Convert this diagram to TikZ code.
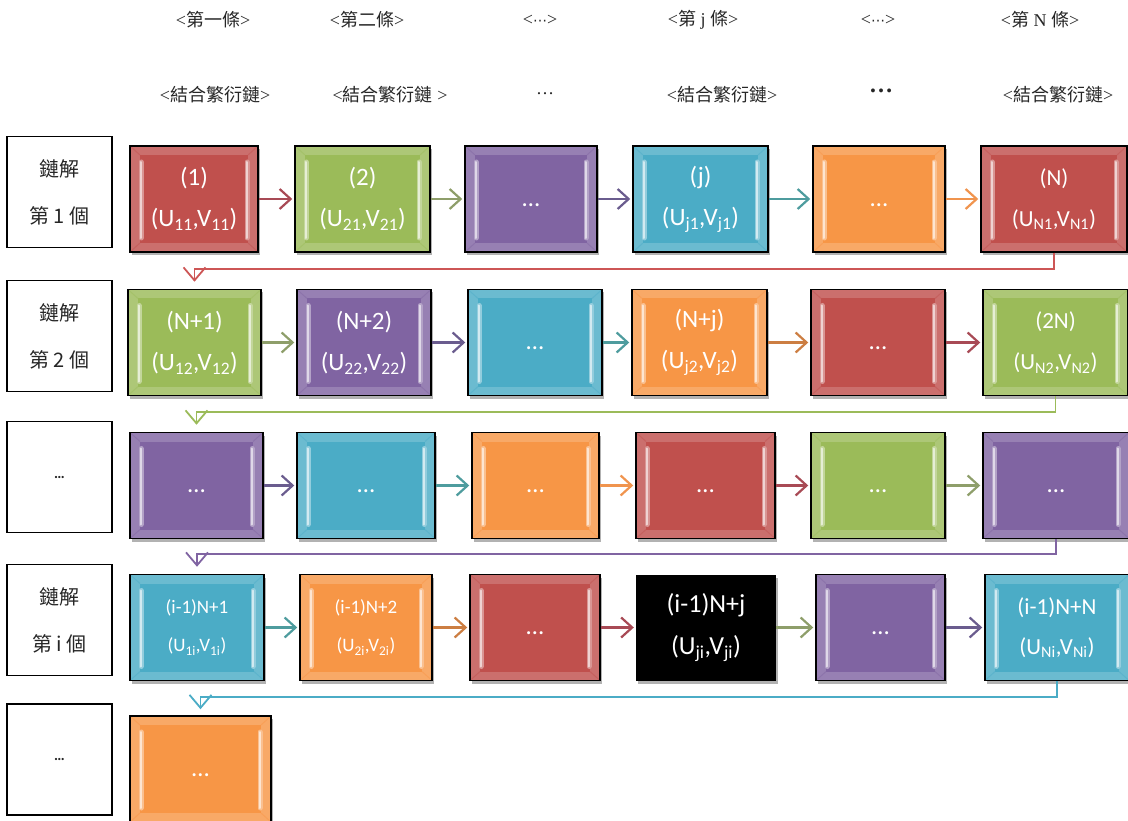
\documentclass[tikz,border=0pt]{standalone}
\usepackage{fontspec}
\setmainfont{Carlito}
\newfontfamily\cjk{Noto Sans CJK TC}
\newfontfamily\hdrfont{Liberation Serif}
\newfontfamily\djv{DejaVu Sans}
\usetikzlibrary{arrows.meta,shadows,calc}
\newcommand\zhtxt[1]{{\cjk #1}}
\newcommand\UV[2]{(U\textsubscript{#1},V\textsubscript{#2})}
\newcommand\dotsbox{\vphantom{(}…}
\definecolor{cRed}{HTML}{C0504D}
\definecolor{cGreen}{HTML}{9BBB59}
\definecolor{cPurple}{HTML}{8064A2}
\definecolor{cAqua}{HTML}{4BACC6}
\definecolor{cOrange}{HTML}{F79646}
\definecolor{aRed}{HTML}{A84A55}
\definecolor{aGreen}{HTML}{8E9E6A}
\definecolor{aPurple}{HTML}{6A5C8E}
\definecolor{aAqua}{HTML}{4E9C9E}
\definecolor{aOrange}{HTML}{F0944E}
\definecolor{rRed}{HTML}{CD5656}
\begin{document}
\begin{tikzpicture}[x=1pt,y=-1pt,
  hdr/.style={font=\hdrfont\fontsize{18}{20}\selectfont, text=black!85, inner sep=0pt},
  lbl/.style={draw=black, line width=1.6pt, fill=white, minimum width=105pt, minimum height=111pt,
    align=center, inner sep=0pt, font=\cjk\fontsize{20}{47}\selectfont, text=black!85},
  gem/.style={draw=black, line width=1.5pt, fill=#1, text=white, inner sep=0pt, align=center,
    minimum height=106pt, font=\fontsize{25}{41}\selectfont,
    drop shadow={shadow xshift=2pt, shadow yshift=-3pt, opacity=0.3, fill=black},
    path picture={
      \fill[#1!82!white] (path picture bounding box.north west) rectangle (path picture bounding box.south east);
      \fill[#1] ([shift={(10pt,-9pt)}]path picture bounding box.north west) rectangle ([shift={(-10pt,9pt)}]path picture bounding box.south east);
      \draw[#1!90!white, line width=1pt] (path picture bounding box.north west) -- ([shift={(10pt,-9pt)}]path picture bounding box.north west);
      \draw[#1!90!white, line width=1pt] (path picture bounding box.north east) -- ([shift={(-10pt,-9pt)}]path picture bounding box.north east);
      \draw[#1!90!white, line width=1pt] (path picture bounding box.south west) -- ([shift={(10pt,9pt)}]path picture bounding box.south west);
      \draw[#1!90!white, line width=1pt] (path picture bounding box.south east) -- ([shift={(-10pt,9pt)}]path picture bounding box.south east);
      \draw[white!40!#1, line width=5pt, line cap=round] ([shift={(11pt,-16pt)}]path picture bounding box.north west) -- ([shift={(11pt,14pt)}]path picture bounding box.south west);
      \draw[white!40!#1, line width=5pt, line cap=round] ([shift={(-11pt,-16pt)}]path picture bounding box.north east) -- ([shift={(-11pt,14pt)}]path picture bounding box.south east);
      \draw[white!75!#1, line width=2pt, line cap=round] ([shift={(11pt,-16pt)}]path picture bounding box.north west) -- ([shift={(11pt,14pt)}]path picture bounding box.south west);
      \draw[white!75!#1, line width=2pt, line cap=round] ([shift={(-11pt,-16pt)}]path picture bounding box.north east) -- ([shift={(-11pt,14pt)}]path picture bounding box.south east);
    }},
  blk/.style={fill=black, text=white, inner sep=0pt, align=center, minimum height=106pt,
    minimum width=140pt, font=\fontsize{26}{42}\selectfont,
    drop shadow={shadow xshift=2pt, shadow yshift=-3pt, opacity=0.3, fill=black}},
  small/.style={font=\fontsize{19}{38}\selectfont},
  mid/.style={font=\fontsize{23}{41}\selectfont},
  conn/.style={line width=2.2pt, shorten >=2pt, -{Straight Barb[length=11pt,width=20pt]}},
  ret/.style={line width=1.8pt, -{Straight Barb[length=13pt,width=22pt]}}
]
\useasboundingbox (0,0) rectangle (1128,821);

% headers
\node[hdr] (h1) at (213,20) {<\zhtxt{第一條}>};
\node[hdr] (h2) at (367,20) {<\zhtxt{第二條}>};
\node[hdr] (h3) at (540,20) {<{\djv\fontsize{14}{16}\selectfont ⋯}>};
\node[hdr] (h4) at (703,20) {<\zhtxt{第} j \zhtxt{條}>};
\node[hdr] (h5) at (878,20) {<{\djv\fontsize{14}{16}\selectfont ⋯}>};
\node[hdr] (h6) at (1040,20) {<\zhtxt{第} N \zhtxt{條}>};
\node[hdr] (g1) at (215,95) {<\zhtxt{結合繁衍鏈}>};
\node[hdr] (g2) at (390,95) {<\zhtxt{結合繁衍鏈} >};
\node[hdr] (g3) at (545,94) {…};
\node[hdr, font=\hdrfont\bfseries\fontsize{24}{26}\selectfont] (g4) at (881,91) {…};
\node[hdr] (g5) at (722,95) {<\zhtxt{結合繁衍鏈}>};
\node[hdr] (g6) at (1058,95) {<\zhtxt{結合繁衍鏈}>};

% left labels
\node[lbl] (L1) at (59.5,192) {鏈解\\第 1 個};
\node[lbl] (L2) at (59.5,336) {鏈解\\第 2 個};
\node[lbl, font=\fontsize{15}{17}\selectfont\bfseries] (L3) at (59.5,477) {…};
\node[lbl] (L4) at (59.5,620) {鏈解\\第 i 個};
\node[lbl, font=\fontsize{15}{17}\selectfont\bfseries] (L5) at (59.5,759.5) {…};

% row 1
\node[gem=cRed, minimum width=128pt] (r1c1) at (194,199) {(1)\\\UV{11}{11}};
\node[gem=cGreen, minimum width=135pt] (r1c2) at (362.5,199) {(2)\\\UV{21}{21}};
\node[gem=cPurple, minimum width=132pt] (r1c3) at (531,199) {\dotsbox};
\node[gem=cAqua, minimum width=135pt] (r1c4) at (700.5,199) {(j)\\\UV{j1}{j1}};
\node[gem=cOrange, minimum width=132pt] (r1c5) at (879,199) {\dotsbox};
\node[gem=cRed, mid, minimum width=146pt] (r1c6) at (1054,199) {(N)\\\UV{N1}{N1}};

% row 2
\node[gem=cGreen, minimum width=133pt] (r2c1) at (194.5,342.5) {(N+1)\\\UV{12}{12}};
\node[gem=cPurple, minimum width=134pt] (r2c2) at (364,342.5) {(N+2)\\\UV{22}{22}};
\node[gem=cAqua, minimum width=134pt] (r2c3) at (535,342.5) {\dotsbox};
\node[gem=cOrange, minimum width=135pt] (r2c4) at (699.5,342.5) {(N+j)\\\UV{j2}{j2}};
\node[gem=cRed, minimum width=134pt] (r2c5) at (878,342.5) {\dotsbox};
\node[gem=cGreen, mid, minimum width=145pt] (r2c6) at (1055.5,342.5) {(2N)\\\UV{N2}{N2}};

% row 3
\node[gem=cPurple, minimum width=133pt] (r3c1) at (196.5,485.5) {\dotsbox};
\node[gem=cAqua, minimum width=138pt] (r3c2) at (366,485.5) {\dotsbox};
\node[gem=cOrange, minimum width=127pt] (r3c3) at (535.5,485.5) {\dotsbox};
\node[gem=cRed, minimum width=139pt] (r3c4) at (705.5,485.5) {\dotsbox};
\node[gem=cGreen, minimum width=134pt] (r3c5) at (878,485.5) {\dotsbox};
\node[gem=cPurple, minimum width=146pt] (r3c6) at (1056,485.5) {\dotsbox};

% row 4
\node[gem=cAqua, small, minimum width=134pt] (r4c1) at (197,627.5) {(i-1)N+1\\\UV{1i}{1i}};
\node[gem=cOrange, small, minimum width=132pt] (r4c2) at (366,627.5) {(i-1)N+2\\\UV{2i}{2i}};
\node[gem=cRed, minimum width=130pt] (r4c3) at (535,627.5) {\dotsbox};
\node[blk] (r4c4) at (706,627.5) {(i-1)N+j\\\UV{ji}{ji}};
\node[gem=cPurple, minimum width=129pt] (r4c5) at (880.5,627.5) {\dotsbox};
\node[gem=cAqua, font=\fontsize{23}{40}\selectfont, minimum width=144pt] (r4c6) at (1057,627.5) {(i-1)N+N\\\UV{Ni}{Ni}};

% row 5
\node[gem=cOrange, minimum width=141pt] (r5c1) at (200.5,769) {\dotsbox};

% horizontal connectors
\draw[conn, aRed] (r1c1.east) -- (r1c2.west);
\draw[conn, aGreen] (r1c2.east) -- (r1c3.west);
\draw[conn, aPurple] (r1c3.east) -- (r1c4.west);
\draw[conn, aAqua] (r1c4.east) -- (r1c5.west);
\draw[conn, aOrange] (r1c5.east) -- (r1c6.west);

\draw[conn, aGreen] (r2c1.east) -- (r2c2.west);
\draw[conn, aPurple] (r2c2.east) -- (r2c3.west);
\draw[conn, aAqua] (r2c3.east) -- (r2c4.west);
\draw[conn, aOrange!85!black] (r2c4.east) -- (r2c5.west);
\draw[conn, aRed] (r2c5.east) -- (r2c6.west);

\draw[conn, aPurple] (r3c1.east) -- (r3c2.west);
\draw[conn, aAqua] (r3c2.east) -- (r3c3.west);
\draw[conn, aOrange] (r3c3.east) -- (r3c4.west);
\draw[conn, aRed] (r3c4.east) -- (r3c5.west);
\draw[conn, aGreen] (r3c5.east) -- (r3c6.west);

\draw[conn, aAqua] (r4c1.east) -- (r4c2.west);
\draw[conn, aOrange!85!black] (r4c2.east) -- (r4c3.west);
\draw[conn, aRed] (r4c3.east) -- (r4c4.west);
\draw[conn, aGreen] (r4c4.east) -- (r4c5.west);
\draw[conn, aPurple] (r4c5.east) -- (r4c6.west);

% return connectors
\draw[ret, rRed] (r1c6.south) -- ++(0,16) -| ($(r2c1.north)+(0,-7)$);
\draw[ret, cGreen] (r2c6.south) -- ++(0,16) -| ($(r3c1.north)+(0,-7)$);
\draw[ret, cPurple] (r3c6.south) -- ++(0,15) -| ($(r4c1.north)+(0,-7)$);
\draw[ret, cAqua] (r4c6.south) -- ++(0,16) -| ($(r5c1.north)+(0,-6)$);
\end{tikzpicture}
\end{document}
